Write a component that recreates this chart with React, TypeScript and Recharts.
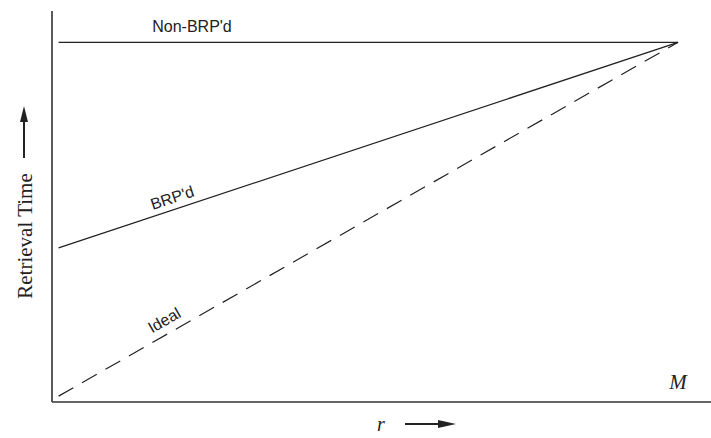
import React from 'react';
import { LineChart, Line, XAxis, YAxis } from 'recharts';

// r runs from 0 to M (scaled 0..100); retrieval time on the same relative scale
const rValues = [1, 95];
const nonBrpTime = [92, 92];
const brpTime = [39.4, 92];
const idealTime = [1.5, 92];

const data = rValues.map((r, i) => ({
  r,
  nonBrp: nonBrpTime[i],
  brp: brpTime[i],
  ideal: idealTime[i],
}));

const W = 711;
const H = 438;
const ink = '#222';
const sans = '"Liberation Sans", Arial, Helvetica, sans-serif';
const serif = '"Liberation Serif", "Times New Roman", serif';

const Annotations: React.FC = () => (
  <svg width={W} height={H} style={{ position: 'absolute', left: 0, top: 0, pointerEvents: 'none' }}>
    <text x={192} y={32} textAnchor="middle" fontFamily={sans} fontSize={16} fill={ink}>
      Non-BRP'd
    </text>
    <text x={174} y={203} textAnchor="middle" fontFamily={sans} fontSize={16} fill={ink}
      transform="rotate(-18.3 174 203)">
      BRP'd
    </text>
    <text x={167} y={325} textAnchor="middle" fontFamily={sans} fontSize={16} fill={ink}
      transform="rotate(-29.7 167 325)">
      Ideal
    </text>
    <text x={678} y={389} textAnchor="middle" fontFamily={serif} fontStyle="italic" fontSize={21} fill={ink}>
      M
    </text>
    {/* y axis title with arrow */}
    <text x={32} y={236} textAnchor="middle" fontFamily={serif} fontSize={21} fill={ink}
      transform="rotate(-90 32 236)">
      Retrieval Time
    </text>
    <line x1={24} y1={158} x2={24} y2={118} stroke={ink} strokeWidth={2} />
    <polygon points="24,106 20,122 28,122" fill={ink} />
    {/* x axis title with arrow */}
    <text x={381} y={431} textAnchor="middle" fontFamily={serif} fontStyle="italic" fontSize={20} fill={ink}>
      r
    </text>
    <line x1={405} y1={424} x2={440} y2={424} stroke={ink} strokeWidth={1.8} />
    <polygon points="456,424 438,420 438,428" fill={ink} />
  </svg>
);

export default function App() {
  return (
    <div style={{ position: 'absolute', left: 0, top: 0, width: W, height: H, background: '#fff' }}>
      <LineChart width={W} height={H} data={data} margin={{ top: 11, right: 0, bottom: 35, left: 51 }}>
        <XAxis
          type="number"
          dataKey="r"
          domain={[0, 100]}
          tick={false}
          tickLine={false}
          height={1}
          axisLine={{ stroke: '#333', strokeWidth: 1.6 }}
        />
        <YAxis
          type="number"
          domain={[0, 100]}
          tick={false}
          tickLine={false}
          width={1}
          axisLine={{ stroke: '#333', strokeWidth: 1.6 }}
        />
        <Line dataKey="nonBrp" stroke={ink} strokeWidth={1.3} dot={false} isAnimationActive={false} />
        <Line dataKey="brp" stroke={ink} strokeWidth={1.3} dot={false} isAnimationActive={false} />
        <Line dataKey="ideal" stroke={ink} strokeWidth={1.2} strokeDasharray="17 10" dot={false} isAnimationActive={false} />
      </LineChart>
      <Annotations />
    </div>
  );
}
